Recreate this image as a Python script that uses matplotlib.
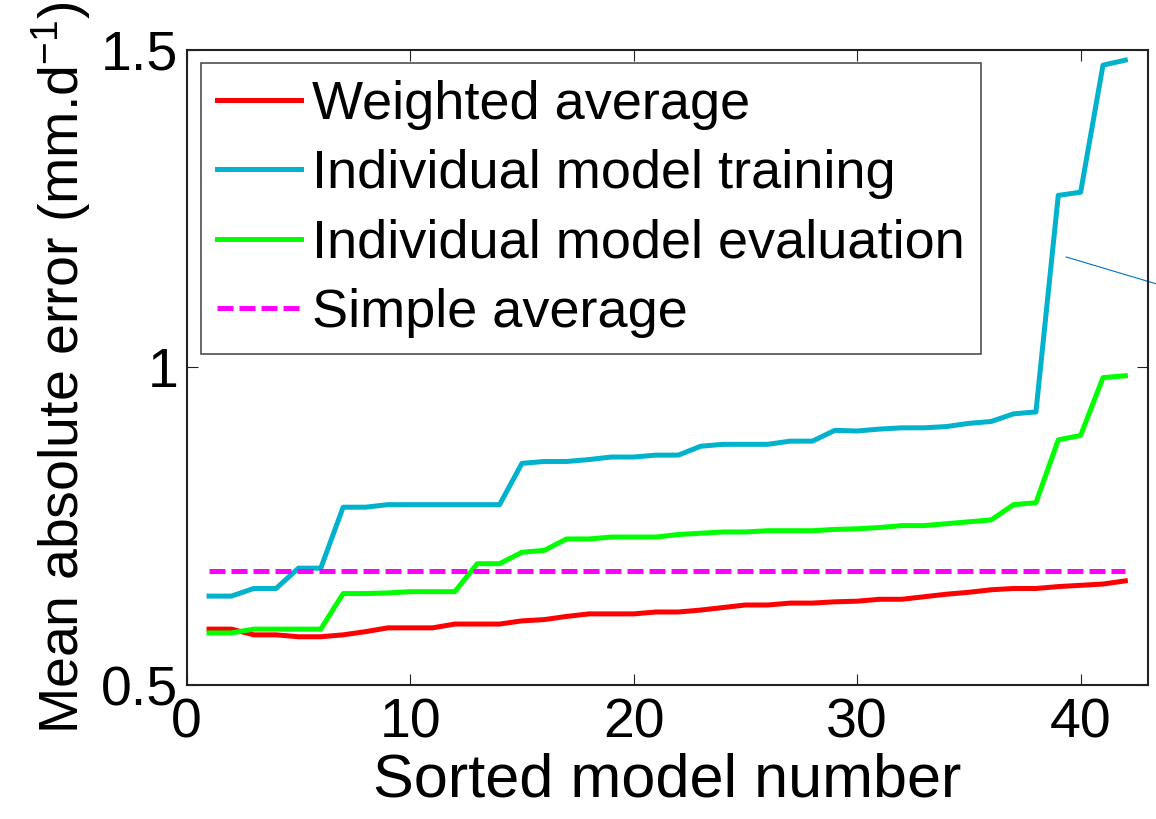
import numpy as np
import matplotlib
matplotlib.use('Agg')
import matplotlib.pyplot as plt

plt.rcParams['font.family'] = ['Liberation Sans', 'DejaVu Sans']
plt.rcParams['mathtext.fontset'] = 'custom'
plt.rcParams['mathtext.rm'] = 'Liberation Sans'
plt.rcParams['mathtext.it'] = 'Liberation Sans'

models = np.arange(1, 43)

weighted = [0.588, 0.588, 0.579, 0.579, 0.576, 0.576, 0.579, 0.584, 0.590, 0.590,
            0.590, 0.596, 0.596, 0.596, 0.601, 0.603, 0.608, 0.612, 0.612, 0.612,
            0.615, 0.615, 0.618, 0.622, 0.626, 0.626, 0.629, 0.629, 0.631, 0.632,
            0.635, 0.635, 0.639, 0.643, 0.646, 0.650, 0.652, 0.652, 0.655, 0.657,
            0.659, 0.664]

training = [0.640, 0.640, 0.652, 0.652, 0.684, 0.684, 0.780, 0.780, 0.784, 0.784,
            0.784, 0.784, 0.784, 0.784, 0.849, 0.852, 0.852, 0.855, 0.859, 0.859,
            0.862, 0.862, 0.876, 0.879, 0.879, 0.879, 0.884, 0.884, 0.901, 0.900,
            0.903, 0.905, 0.905, 0.907, 0.912, 0.915, 0.927, 0.930, 1.271, 1.276,
            1.476, 1.484]

evaluation = [0.582, 0.582, 0.588, 0.588, 0.588, 0.588, 0.644, 0.644, 0.645, 0.647,
              0.647, 0.647, 0.691, 0.691, 0.709, 0.712, 0.730, 0.730, 0.733, 0.733,
              0.733, 0.737, 0.739, 0.741, 0.741, 0.743, 0.743, 0.743, 0.745, 0.746,
              0.748, 0.751, 0.751, 0.754, 0.757, 0.760, 0.784, 0.787, 0.886, 0.893,
              0.984, 0.987]

simple_avg = 0.679

labels = ['Weighted average', 'Individual model training',
          'Individual model evaluation', 'Simple average']


def main():
    fig = plt.figure(figsize=(11.56, 8.19), dpi=100)
    ax = fig.add_axes([0.1615, 0.1636, 0.8313, 0.7754])

    lw = 3.6
    ax.plot(models, weighted, color='#ff0000', lw=lw, label=labels[0])
    ax.plot(models, training, color='#00b2cc', lw=lw, label=labels[1])
    ax.plot(models, evaluation, color='#00ff00', lw=lw, label=labels[2])
    ax.plot(models, np.full(len(models), simple_avg), color='#ff00ff', lw=lw,
            dashes=(3.2, 1.2), label=labels[3])

    # thin pointer line running off the right edge
    ax.plot([39.35, 44.5], [1.174, 1.120], color='#0072bd', lw=0.8, clip_on=False)

    ax.set_xlim(0, 43)
    ax.set_ylim(0.5, 1.5)
    ax.set_xticks([0, 10, 20, 30, 40])
    ax.set_yticks([0.5, 1.0, 1.5])
    ax.set_yticklabels(['0.5', '1', '1.5'])
    ax.tick_params(direction='in', length=8, width=0.8, top=True, right=True,
                   labelsize=40, colors='#222222', labelcolor='black')
    ax.tick_params(axis='x', pad=9)
    ax.tick_params(axis='y', pad=6)
    for s in ax.spines.values():
        s.set_linewidth(1.5)
        s.set_color('#222222')

    ax.set_xlabel('Sorted model number', fontsize=44, labelpad=2)
    ax.set_ylabel(r'Mean absolute error (mm.d$^{-1}$)', fontsize=40, labelpad=6)

    leg = ax.legend(loc='upper left', bbox_to_anchor=(0.0145, 0.979), fontsize=39,
                    frameon=True, fancybox=False, handlelength=1.55,
                    handletextpad=0.2, labelspacing=0.36, borderpad=0.3,
                    borderaxespad=0)
    leg.get_frame().set_edgecolor('#222222')
    leg.get_frame().set_linewidth(1.2)
    for line in leg.get_lines():
        line.set_linewidth(3.6)

    fig.savefig('out.png', dpi=100)


if __name__ == '__main__':
    main()
